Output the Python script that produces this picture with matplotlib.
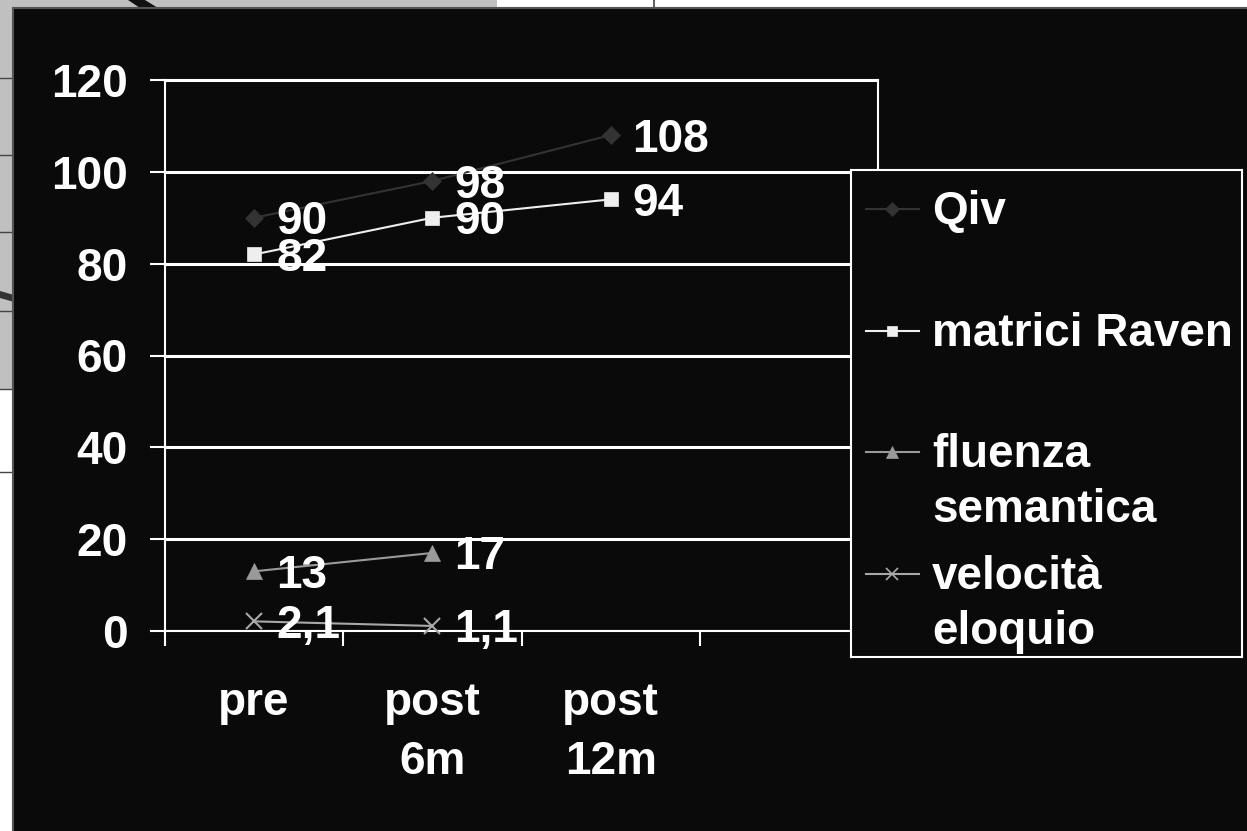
import matplotlib.pyplot as plt
from matplotlib.patches import Rectangle, Polygon
from matplotlib.lines import Line2D

# dati
categorie = ["pre", "post\n6m", "post\n12m", ""]
qiv = [90, 98, 108]
raven = [82, 90, 94]
fluenza = [13, 17]
velocita = [2.1, 1.1]

serie = [
    ("Qiv", qiv, "#333333", "D", 9),
    ("matrici Raven", raven, "#eeeeee", "s", 10),
    ("fluenza\nsemantica", fluenza, "#9a9a9a", "^", 11),
    ("velocità\neloquio", velocita, "#a8a8a8", "x", 11),
]

W, H = 1247, 831
plt.rcParams["font.family"] = ["Liberation Sans", "DejaVu Sans"]
plt.rcParams["font.weight"] = "bold"

fig = plt.figure(figsize=(W / 100, H / 100), dpi=100)
fig.patch.set_facecolor("white")


def px(x, y):
    # pixel (dall'alto a sinistra) -> frazione della figura
    return x / W, 1 - y / H


def rect(x0, y0, x1, y1, **kw):
    (fx0, fy1), (fx1, fy0) = px(x0, y0), px(x1, y1)
    fig.add_artist(Rectangle((fx0, fy0), fx1 - fx0, fy1 - fy0,
                             transform=fig.transFigure, zorder=-5, **kw))


def linea(xs, ys, **kw):
    pts = [px(x, y) for x, y in zip(xs, ys)]
    fig.add_artist(Line2D([p[0] for p in pts], [p[1] for p in pts],
                          transform=fig.transFigure, zorder=-4, **kw))


# sfondo della diapositiva dietro
rect(0, 0, 497, 9, facecolor="#c0c0c0", edgecolor="none")
rect(0, 0, 14, 389, facecolor="#c0c0c0", edgecolor="none")
for yy in [78, 155, 232, 311, 389, 472]:
    linea([0, 14], [yy, yy], color="#444444", lw=1)
linea([654, 654], [0, 9], color="#444444", lw=1.2)
fig.add_artist(Polygon([px(128, 0), px(145, 0), px(158, 8), px(140, 8)],
                       closed=True, transform=fig.transFigure, zorder=-4,
                       facecolor="#111111", edgecolor="none"))
fig.add_artist(Polygon([px(0, 291), px(14, 295), px(14, 302), px(0, 298)],
                       closed=True, transform=fig.transFigure, zorder=-4,
                       facecolor="#333333", edgecolor="none"))

# riquadro nero
(bx, by) = px(13, H + 5)
fig.add_artist(Rectangle((bx, by), 1.1, 1 - 8 / H - by,
                         transform=fig.transFigure, zorder=-3,
                         facecolor="#0a0a0a", edgecolor="#555555", lw=1.5))

# area del grafico
l, t, r, b = 165, 80, 878, 631
(fl, ft), (fr, fb) = px(l, t), px(r, b)
ax = fig.add_axes([fl, fb, fr - fl, ft - fb])
ax.set_facecolor("#0a0a0a")
for s in ax.spines.values():
    s.set_color("white")
    s.set_linewidth(1.5)

ax.set_ylim(0, 120)
ax.set_yticks(range(0, 121, 20))
ax.yaxis.grid(True, color="white", lw=2.2, zorder=1)
ax.set_axisbelow(True)
ax.tick_params(axis="y", length=11, width=1.5, color="white", pad=16,
               labelsize=33, labelcolor="white")

ax.set_xlim(-0.5, 3.5)
ax.set_xticks([-0.5, 0.5, 1.5, 2.5, 3.5])
ax.set_xticklabels([])
ax.set_xticks(range(len(categorie)), minor=True)
ax.set_xticklabels(categorie, minor=True, fontsize=33, color="white",
                   linespacing=1.45)
ax.tick_params(axis="x", which="major", length=11, width=1.5, color="white")
ax.tick_params(axis="x", which="minor", length=0, pad=36)
for lab in ax.get_yticklabels() + ax.get_xticklabels(minor=True):
    lab.set_fontweight("bold")

for nome, valori, col, mk, ms in serie:
    xs = list(range(len(valori)))
    ax.plot(xs, valori, color=col, lw=1.5, marker=mk, ms=ms,
            mew=1.5 if mk == "x" else 0.5, mec=col, mfc=col, zorder=3,
            clip_on=False)
    for xv, v in zip(xs, valori):
        testo = f"{v:g}".replace(".", ",")
        ax.annotate(testo, (xv, v), xytext=(15.8, -11.9),
                    textcoords="offset points", ha="left", va="baseline",
                    fontsize=33, fontweight="bold", color="white", zorder=4,
                    annotation_clip=False)

# legenda
(gl, gt), (gr, gb) = px(851, 170), px(1242, 657)
lg = fig.add_axes([gl, gb, gr - gl, gt - gb])
lg.set_xlim(851, 1242)
lg.set_ylim(657, 170)
lg.set_facecolor("#0a0a0a")
lg.set_xticks([])
lg.set_yticks([])
for s in lg.spines.values():
    s.set_color("white")
    s.set_linewidth(1.5)

righe = [209, 331, 452, 574]
for (nome, valori, col, mk, ms), yy in zip(serie, righe):
    lg.plot([866, 919], [yy, yy], color=col, lw=1.5)
    lg.plot([892], [yy], color=col, marker=mk, ms=ms * 0.75,
            mew=1.2 if mk == "x" else 0.5, mec=col, mfc=col)
    # la prima riga del testo allineata al simbolo
    for k, riga in enumerate(nome.split("\n")):
        lg.text(932, yy + 15 + 55 * k, riga, ha="left", va="baseline",
                fontsize=33, fontweight="bold", color="white")

fig.savefig("out.png", dpi=100, facecolor=fig.get_facecolor())
